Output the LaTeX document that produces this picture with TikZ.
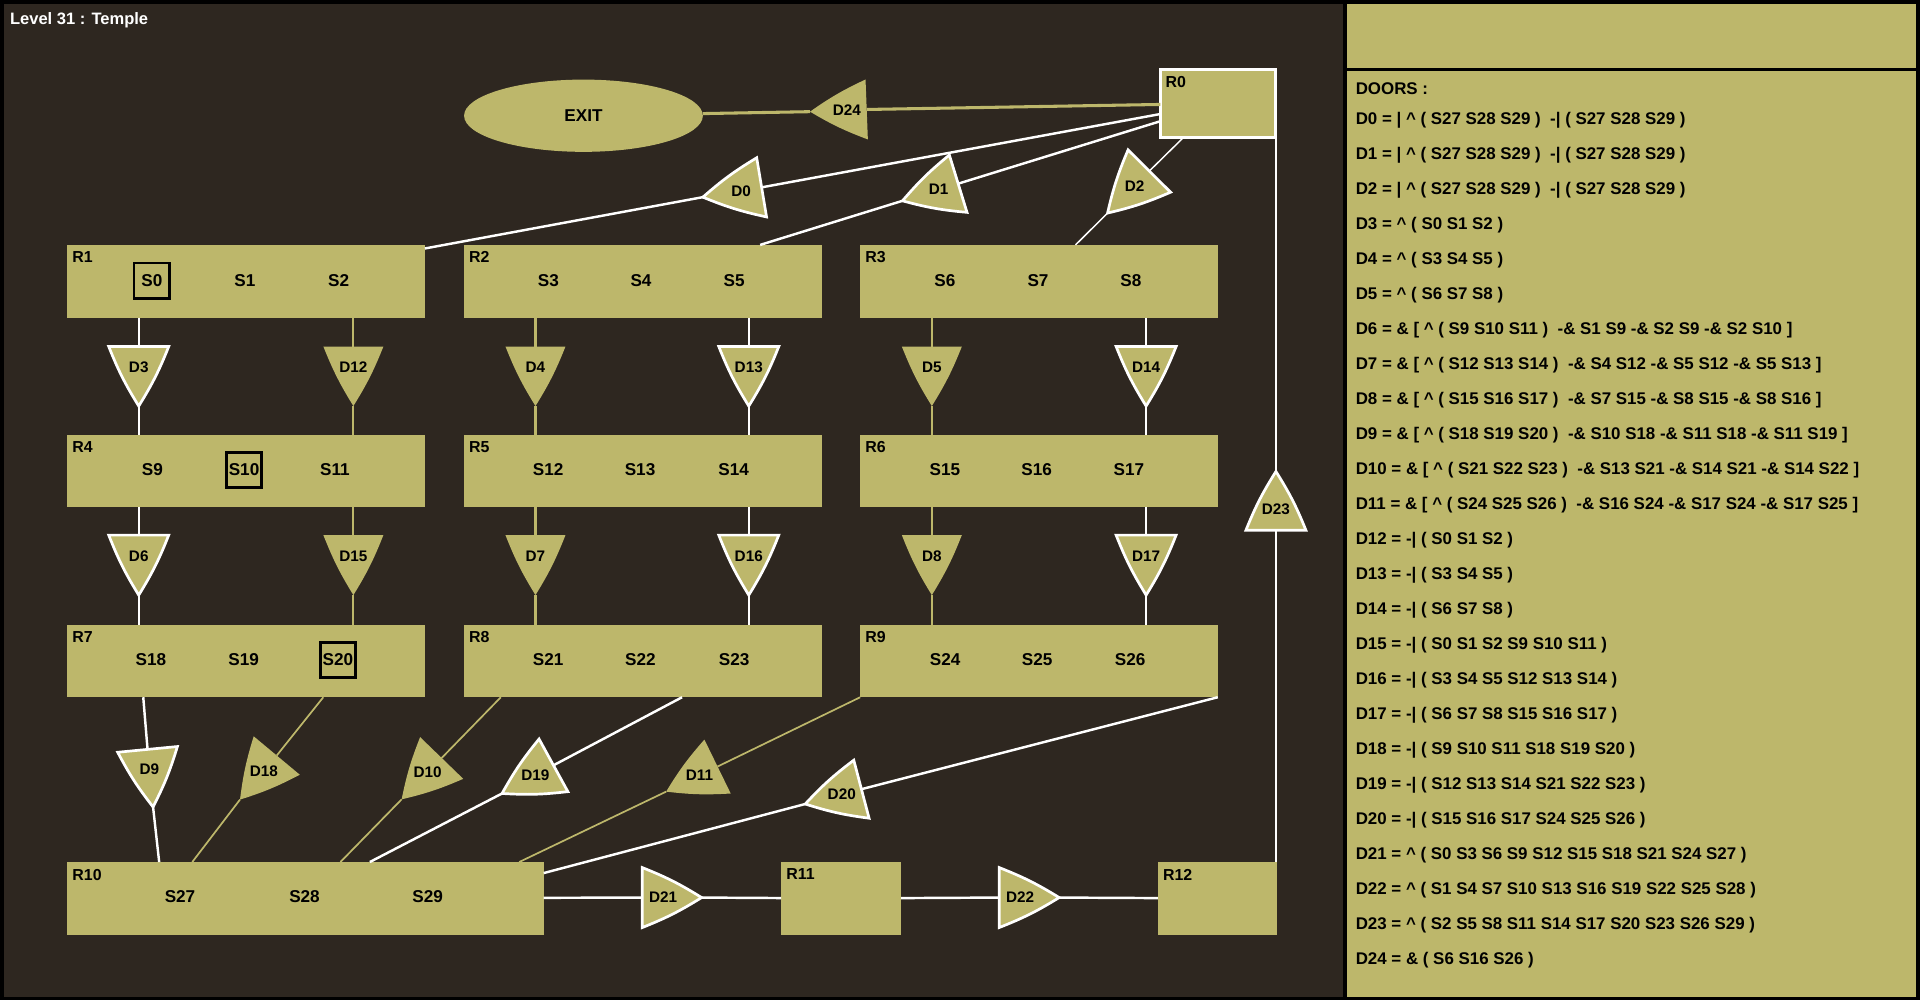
\documentclass[tikz,border=0pt]{standalone}
\usepackage{fontspec}
\setmainfont{Liberation Sans}
\usetikzlibrary{calc, positioning, shapes.geometric}

\definecolor{khaki}{RGB}{189,183,107}
\definecolor{dark}{RGB}{46,39,32}

\tikzset{
    room/.style={fill=khaki, anchor=north west, minimum height=59.4pt, inner sep=0pt, outer sep=0pt},
    rlab/.style={anchor=north west, inner xsep=4pt, inner ysep=5.5pt, font=\fontsize{13}{15}\selectfont\bfseries},
    st/.style={font=\fontsize{14}{16}\selectfont\bfseries, inner sep=0pt},
    hst/.style={st, draw=black, line width=2.2pt, minimum width=29pt, minimum height=29pt},
    dlab/.style={font=\fontsize{12.5}{14}\selectfont\bfseries, inner sep=0pt},
    wl/.style={draw=white, line width=2pt},
    ol/.style={draw=khaki, line width=2pt},
    txt/.style={anchor=base west, inner sep=0pt, font=\fontsize{13.8}{16}\selectfont\bfseries}
}

% door: straight back at (name-b), point at (name-t)
\newcommand{\drawdoor}[2]{%
    \filldraw[fill=khaki, draw=#2, line width=2.2pt]
        ($(#1-b)!24.5pt!90:(#1-t)$) -- ($(#1-b)!24.5pt!-90:(#1-t)$)
        to[bend right=5] (#1-t)
        to[bend right=5] ($(#1-b)!24.5pt!90:(#1-t)$) -- cycle;
    \node[dlab] (#1) at ($(#1-b)!0.35!(#1-t)$) {#1};
}

\begin{document}
\begin{tikzpicture}[x=1pt, y=-1pt]
    \useasboundingbox (0,0) rectangle (1568,817);
    \fill[black] (0,0) rectangle (1568,817);
    \fill[dark] (3,3) rectangle (1097,814);
    \fill[khaki] (1100,3) rectangle (1565,814);
    \draw[line width=2.5pt] (1100,57) -- (1565,57);

    \node[anchor=base west, inner sep=0pt, text=white, font=\fontsize{13.5}{15}\selectfont\bfseries] (title) at (8,19.6) {Level 31 : Temple};

    % rooms
    \node[ellipse, fill=khaki, minimum width=195pt, minimum height=59pt, inner sep=0pt, font=\fontsize{14}{16}\selectfont\bfseries] (EXIT) at (476.5,94.5) {EXIT};
    \node[room, anchor=center, draw=white, line width=2.5pt, minimum width=94pt, minimum height=56pt, label={[rlab]north west:R0}] (R0) at (994.7,84.5) {};
    \node[room, minimum width=292pt, label={[rlab]north west:R1}] (R1) at (55,200) {};
    \node[room, minimum width=292pt, label={[rlab]north west:R2}] (R2) at (379,200) {};
    \node[room, minimum width=292pt, label={[rlab]north west:R3}] (R3) at (702.5,200) {};
    \node[room, minimum width=292pt, label={[rlab]north west:R4}] (R4) at (55,355) {};
    \node[room, minimum width=292pt, label={[rlab]north west:R5}] (R5) at (379,355) {};
    \node[room, minimum width=292pt, label={[rlab]north west:R6}] (R6) at (702.5,355) {};
    \node[room, minimum width=292pt, label={[rlab]north west:R7}] (R7) at (55,510) {};
    \node[room, minimum width=292pt, label={[rlab]north west:R8}] (R8) at (379,510) {};
    \node[room, minimum width=292pt, label={[rlab]north west:R9}] (R9) at (702.5,510) {};
    \node[room, minimum width=389pt, label={[rlab]north west:R10}] (R10) at (55,704) {};
    \node[room, minimum width=98pt, label={[rlab]north west:R11}] (R11) at (638,704) {};
    \node[room, minimum width=97.5pt, label={[rlab]north west:R12}] (R12) at (945.6,704) {};

    % states
    \foreach \s/\x/\y/\k in {0/124/229.2/hst, 1/200/229.2/st, 2/276.5/229.2/st,
        3/447.9/229.2/st, 4/523.5/229.2/st, 5/599.6/229.2/st,
        6/771.7/229.2/st, 7/847.7/229.2/st, 8/923.6/229.2/st,
        9/124.4/383.8/st, 10/199.3/383.8/hst, 11/273.5/383.8/st,
        12/447.6/383.8/st, 13/522.7/383.8/st, 14/599.2/383.8/st,
        15/771.6/383.8/st, 16/846.6/383.8/st, 17/922/383.8/st,
        18/123.3/539/st, 19/199/539/st, 20/276/539/hst,
        21/447.6/539/st, 22/523/539/st, 23/599.5/539/st,
        24/771.8/539/st, 25/847/539/st, 26/923/539/st,
        27/147/732.5/st, 28/248.7/732.5/st, 29/349.3/732.5/st}
        \node[\k] (S\s) at (\x,\y) {S\s};

    % door back and point
    \foreach \dr/\bx/\by/\tx/\ty in {D0/622/153/574/161, D1/782.5/150/737/164,
        D2/938.6/139.7/904.5/174, D3/113.3/283/113.3/331.6, D4/437.3/283/437.3/331.6,
        D5/761/283/761/331.6, D6/113.3/437/113.3/486, D7/437.3/437/437.3/486,
        D8/761/437/761/486, D9/120.5/612/125/659, D10/360.7/619/328/652.8,
        D11/586/626/544/646.5, D12/288.6/283/288.6/331.6, D13/611.5/283/611.5/331.6,
        D14/936/283/936/331.6, D15/288.6/437/288.6/486, D16/611.5/437/611.5/486,
        D17/936/437/936/486, D18/226/617/196/653, D19/452/625/410/648,
        D20/703.5/644.5/657.6/656.6, D21/524.5/733/573/733, D22/816/733/865/733,
        D23/1042/433/1042/385, D24/707.8/89.4/661.5/91.2}
    {
        \coordinate (\dr-b) at (\bx,\by);
        \coordinate (\dr-t) at (\tx,\ty);
    }

    % connectors
    \draw[ol, line width=2.5pt] (D24-t) -- (EXIT) (D24-b) -- (R0);
    \draw[wl] (D0-t) -- (R1) (D0-b) -- (R0);
    \draw[wl] (D1-t) -- (R2) (D1-b) -- (R0);
    \draw[wl, line width=1.2pt] (D2-t) -- (R3) (D2-b) -- (R0);
    \draw[wl, line width=1.8pt] (R0.south east -| D23-t) -- (D23-t) (D23-b) -- (D23-b |- R12.north);
    \foreach \dr/\ru/\rv/\col in {D3/R1/R4/wl, D12/R1/R4/ol, D4/R2/R5/ol, D13/R2/R5/wl,
        D5/R3/R6/ol, D14/R3/R6/wl, D6/R4/R7/wl, D15/R4/R7/ol,
        D7/R5/R8/ol, D16/R5/R8/wl, D8/R6/R9/ol, D17/R6/R9/wl}
        \draw[\col, line width=1.8pt] (\ru.south -| \dr-b) -- (\dr-b) (\dr-t) -- (\dr-t |- \rv.north);
    \draw[wl] ([xshift=62pt]R7.south west) -- (D9-b) (D9-t) -- ([xshift=75pt]R10.north west);
    \draw[ol, line width=1.4pt] ([xshift=209pt]R7.south west) -- (D18-b) (D18-t) -- ([xshift=102pt]R10.north west);
    \draw[ol, line width=1.4pt] ([xshift=30pt]R8.south west) -- (D10-b) (D10-t) -- ([xshift=223pt]R10.north west);
    \draw[wl] ([xshift=178pt]R8.south west) -- (D19-b) (D19-t) -- ([xshift=247pt]R10.north west);
    \draw[ol, line width=1.4pt] (R9.south west) -- (D11-b) (D11-t) -- ([xshift=369pt]R10.north west);
    \draw[wl] (R9.south east) -- (D20-b) (D20-t) -- ([yshift=-9pt]R10.north east);
    \draw[wl] (R10) -- (D21-b) (D21-t) -- (R11) -- (D22-b) (D22-t) -- (R12);

    % doors
    \foreach \dr/\col in {D0/white, D1/white, D2/white, D3/white, D4/none, D5/none,
        D6/white, D7/none, D8/none, D9/white, D10/none, D11/none, D12/none,
        D13/white, D14/white, D15/none, D16/white, D17/white, D18/none,
        D19/white, D20/white, D21/white, D22/white, D23/white, D24/none}
    {
        \drawdoor{\dr}{\col}
    }

    % door list
    \node[txt] (doors) at (1107,77) {DOORS :};
    \foreach \dtxt [count=\i from 0] in {
        {D0 = | \textasciicircum{} ( S27 S28 S29 )\ \ -| ( S27 S28 S29 )},
        {D1 = | \textasciicircum{} ( S27 S28 S29 )\ \ -| ( S27 S28 S29 )},
        {D2 = | \textasciicircum{} ( S27 S28 S29 )\ \ -| ( S27 S28 S29 )},
        {D3 = \textasciicircum{} ( S0 S1 S2 )},
        {D4 = \textasciicircum{} ( S3 S4 S5 )},
        {D5 = \textasciicircum{} ( S6 S7 S8 )},
        {D6 = \& [ \textasciicircum{} ( S9 S10 S11 )\ \ -\& S1 S9 -\& S2 S9 -\& S2 S10 ]},
        {D7 = \& [ \textasciicircum{} ( S12 S13 S14 )\ \ -\& S4 S12 -\& S5 S12 -\& S5 S13 ]},
        {D8 = \& [ \textasciicircum{} ( S15 S16 S17 )\ \ -\& S7 S15 -\& S8 S15 -\& S8 S16 ]},
        {D9 = \& [ \textasciicircum{} ( S18 S19 S20 )\ \ -\& S10 S18 -\& S11 S18 -\& S11 S19 ]},
        {D10 = \& [ \textasciicircum{} ( S21 S22 S23 )\ \ -\& S13 S21 -\& S14 S21 -\& S14 S22 ]},
        {D11 = \& [ \textasciicircum{} ( S24 S25 S26 )\ \ -\& S16 S24 -\& S17 S24 -\& S17 S25 ]},
        {D12 = -| ( S0 S1 S2 )},
        {D13 = -| ( S3 S4 S5 )},
        {D14 = -| ( S6 S7 S8 )},
        {D15 = -| ( S0 S1 S2 S9 S10 S11 )},
        {D16 = -| ( S3 S4 S5 S12 S13 S14 )},
        {D17 = -| ( S6 S7 S8 S15 S16 S17 )},
        {D18 = -| ( S9 S10 S11 S18 S19 S20 )},
        {D19 = -| ( S12 S13 S14 S21 S22 S23 )},
        {D20 = -| ( S15 S16 S17 S24 S25 S26 )},
        {D21 = \textasciicircum{} ( S0 S3 S6 S9 S12 S15 S18 S21 S24 S27 )},
        {D22 = \textasciicircum{} ( S1 S4 S7 S10 S13 S16 S19 S22 S25 S28 )},
        {D23 = \textasciicircum{} ( S2 S5 S8 S11 S14 S17 S20 S23 S26 S29 )},
        {D24 = \& ( S6 S16 S26 )}}
        \node[txt] (L\i) at (1107,{101.5+28.6*\i}) {\dtxt};
\end{tikzpicture}
\end{document}
